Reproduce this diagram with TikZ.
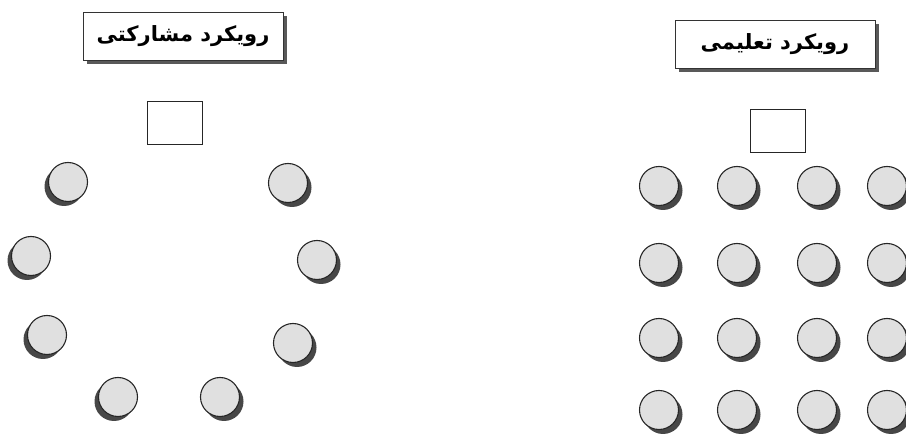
\documentclass[tikz,border=0pt]{standalone}
\usepackage{fontspec}
\newfontfamily\arabicfont[Script=Arabic]{DejaVu Sans}
\TeXXeTstate=1
\usetikzlibrary{shadows}
\begin{document}
\begin{tikzpicture}[x=1pt,y=-1pt,
  disc/.style={circle,draw=black!85,line width=1.1pt,fill=black!12,minimum size=39pt,inner sep=0pt},
  shL/.style={disc,drop shadow={shadow xshift=-4pt,shadow yshift=-4.5pt,fill=black!72,opacity=1}},
  shR/.style={disc,drop shadow={shadow xshift=4pt,shadow yshift=-4.5pt,fill=black!72,opacity=1}},
  title/.style={draw=black!80,line width=0.8pt,fill=white,minimum width=200pt,minimum height=48pt,inner sep=0pt,
     font=\arabicfont\bfseries\fontsize{21}{24}\selectfont,
     drop shadow={shadow xshift=4pt,shadow yshift=-4pt,fill=black!65,opacity=1}},
  desk/.style={draw=black!85,line width=0.8pt,fill=white,minimum width=55pt,minimum height=43pt,inner sep=0pt}]
\useasboundingbox (0,0) rectangle (906,435);
% left: participatory
\node[title] (tl) at (183,36) {\beginR رویکرد مشارکتی\endR};
\node[desk] (dl) at (174.5,122.5) {};
\node[shL] (p1) at (68,182) {};
\node[shR] (p2) at (288,183) {};
\node[shL] (p3) at (31,256) {};
\node[shR] (p4) at (317,260) {};
\node[shL] (p5) at (47,335) {};
\node[shR] (p6) at (293,343) {};
\node[shL] (p7) at (118,397) {};
\node[shR] (p8) at (220,397) {};
% right: instructional
\node[title] (tr) at (775,44) {\beginR رویکرد تعلیمی\endR};
\node[desk] (dr) at (778,130.5) {};
\foreach \r/\y in {1/186,2/263,3/338,4/410}{
  \foreach \c/\x in {1/659,2/737,3/817,4/887}{
    \node[shR] (g\r\c) at (\x,\y) {};
  }
}
\end{tikzpicture}
\end{document}
